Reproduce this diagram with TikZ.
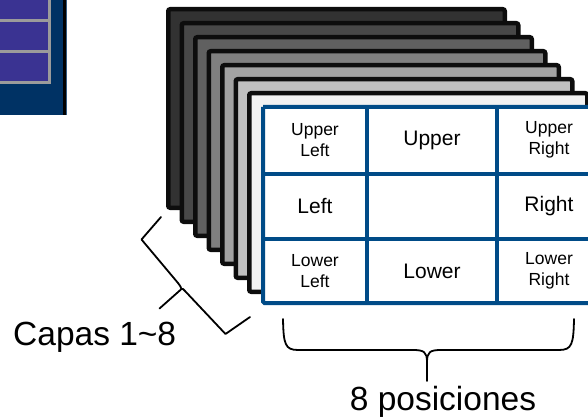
\documentclass[tikz,border=0pt]{standalone}
\usepackage{fontspec}
\setmainfont{Liberation Sans}
\definecolor{navy}{RGB}{0,50,100}
\definecolor{cellpurple}{RGB}{58,51,146}
\definecolor{cellgray}{RGB}{155,155,155}
\definecolor{gridblue}{RGB}{0,75,135}
\definecolor{s1}{RGB}{50,50,50}
\definecolor{s2}{RGB}{72,72,72}
\definecolor{s3}{RGB}{96,96,96}
\definecolor{s4}{RGB}{128,128,128}
\definecolor{s5}{RGB}{162,162,162}
\definecolor{s6}{RGB}{192,192,192}
\definecolor{s7}{RGB}{242,242,242}
\tikzset{
  sheet/.style={draw=black!95, line width=4.5pt, rounded corners=2pt, anchor=north west,
    minimum width=336.5pt, minimum height=198.5pt, inner sep=0pt, outer sep=0pt},
  cell/.style={inner sep=0pt, outer sep=0pt, align=center},
  gridline/.style={draw=gridblue, line width=4pt},
  smalltxt/.style={font=\fontsize{17.5}{21}\selectfont},
  bigtxt/.style={font=\fontsize{21}{25}\selectfont},
  label/.style={font=\fontsize{33.5}{40}\selectfont, inner sep=0pt},
  bracestroke/.style={line width=1.8pt, black, line join=round, line cap=round},
  minicell/.style={fill=cellpurple, draw=cellgray, line width=2.6pt, inner sep=0pt, outer sep=0pt, anchor=north west}
}
\begin{document}
\begin{tikzpicture}[x=1pt,y=-1pt]
\useasboundingbox (0,0) rectangle (588,417);
% top-left clipped panel
\node[fill=navy, inner sep=0pt, outer sep=0pt, anchor=north west, minimum width=64pt, minimum height=114.5pt] (panel) at (0,0) {};
\fill[black] (63,0) rectangle (65.5,114.5);
\fill[navy!80] (65.5,0) rectangle (66.5,114.5);
\begin{scope}
\clip (0,0) rectangle (60,114);
\node[minicell, minimum width=60pt, minimum height=30pt] (pc1) at (-10.3,-9.7) {};
\node[minicell, minimum width=60pt, minimum height=31.4pt] (pc2) at (-10.3,20.3) {};
\node[minicell, minimum width=60pt, minimum height=31pt] (pc3) at (-10.3,51.7) {};
\end{scope}
% stacked sheets
\begin{scope}
\clip (0,0) rectangle (588,417);
\foreach \i/\c in {0/s1,1/s2,2/s3,3/s4,4/s5,5/s6}{
  \node[sheet, fill=\c] (sheet\i) at ({168.25+13.5*\i},{9.25+14*\i}) {};
}
\node[sheet, fill=s7, minimum width=338pt] (sheet6) at (249.25,93.25) {};
% grid
\fill[white] (263,107) rectangle (588,303);
\draw[gridline, rounded corners=1.5pt] (263,107) -- (600,107) (263,107) -- (263,303) -- (600,303);
\draw[gridline] (263,173.5) -- (600,173.5) (263,239) -- (600,239)
                (367,107) -- (367,303) (497,107) -- (497,303);
\end{scope}
\node[fill=white, inner sep=0pt, outer sep=0pt, minimum width=125pt, minimum height=60.5pt] (mid) at (432,206.25) {};
\node[cell, smalltxt] (ul) at (315,140.25) {Upper\\Left};
\node[cell, bigtxt] (u) at (432,140.25) {Upper};
\node[cell, smalltxt] (ur) at (549,140.25) {Upper\\Right};
\node[cell, bigtxt] (l) at (315,206.25) {Left};
\node[cell, bigtxt] (r) at (549,206.25) {Right};
\node[cell, smalltxt] (ll) at (315,271) {Lower\\Left};
\node[cell, bigtxt] (lo) at (432,271) {Lower};
\node[cell, smalltxt] (lr) at (549,271) {Lower\\Right};
% brace for layers
\coordinate (ca) at (161,217);
\coordinate (cb) at (250,317);
\coordinate (ctip) at (159.5,308.5);
\draw[bracestroke] (ca) -- (141.5,239.5) -- (178,283) .. controls (180,285.5) and (181,287) .. (181.5,289) -- (ctip);
\draw[bracestroke] (181.5,289) .. controls (182.5,288.5) and (183.5,289) .. (185,291) -- (225.5,334) -- (cb);
\node[label, anchor=base west] (capas) at (13,345) {Capas 1\char`\~8};
% brace for positions
\coordinate (pa) at (283,319);
\coordinate (pb) at (574,319);
\coordinate (ptip) at (427,381);
\draw[bracestroke] (pa) .. controls (283.5,344) and (285,350) .. (298,350) -- (413,350) .. controls (424,350) and (427,352) .. (427,362) -- (ptip);
\draw[bracestroke] (pb) .. controls (573.5,344) and (572,350) .. (559,350) -- (441,350) .. controls (430,350) and (427,352) .. (427,362);
\node[label, anchor=base] (pos) at (443,410) {8 posiciones};
\end{tikzpicture}
\end{document}
